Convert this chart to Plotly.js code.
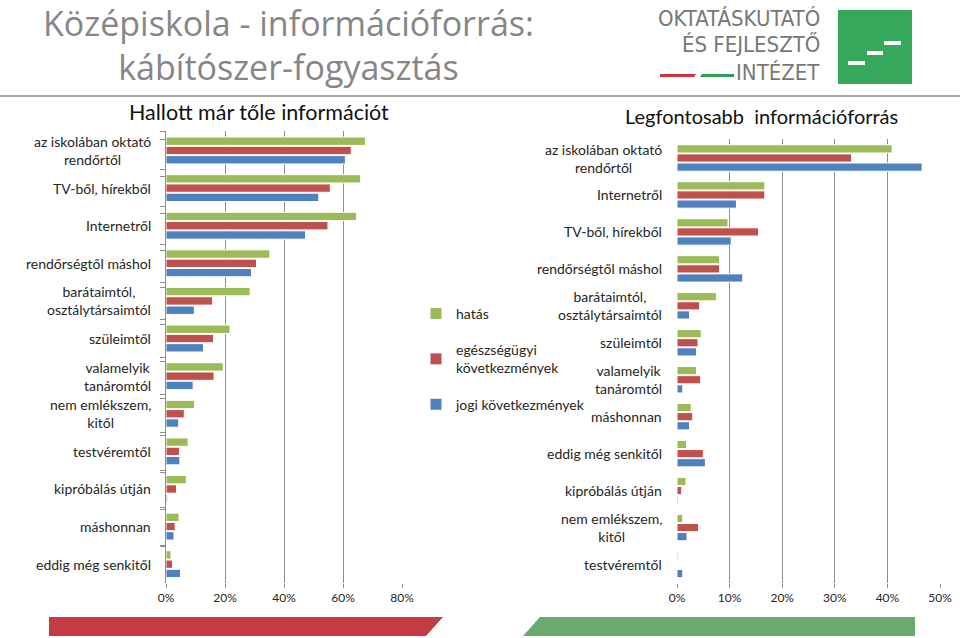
<!DOCTYPE html>
<html>
<head>
<meta charset="utf-8">
<script src="https://cdn.plot.ly/plotly-3.0.1.min.js"></script>
<style>
html,body{margin:0;padding:0;background:#fff;}
#chart{width:960px;height:638px;}
</style>
</head>
<body>
<div id="chart"></div>
<script>
// ---- data ----
const seriesNames = ['hatás', 'egészségügyi<br>következmények', 'jogi következmények'];

const leftCategories = ['az iskolában oktató rendőrtől', 'TV-ből, hírekből', 'Internetről', 'rendőrségtől máshol',
  'barátaimtól, osztálytársaimtól', 'szüleimtől', 'valamelyik tanáromtól', 'nem emlékszem, kitől',
  'testvéremtől', 'kipróbálás útján', 'máshonnan', 'eddig még senkitől'];
const leftLabels = ['az iskolában oktató<br>rendőrtől', 'TV-ből, hírekből', 'Internetről', 'rendőrségtől máshol',
  'barátaimtól,<br>osztálytársaimtól', 'szüleimtől', 'valamelyik<br>tanáromtól', 'nem emlékszem,<br>kitől',
  'testvéremtől', 'kipróbálás útján', 'máshonnan', 'eddig még senkitől'];
const leftHatas    = [67.6, 66.0, 64.6, 35.2, 28.5, 21.7, 19.4, 9.7, 7.5, 6.9, 4.4, 1.7];
const leftEgeszseg = [62.8, 55.7, 54.9, 30.7, 15.8, 16.1, 16.3, 6.2, 4.6, 3.6, 3.1, 2.2];
const leftJogi     = [60.8, 51.8, 47.3, 29.0, 9.6, 12.7, 9.2, 4.3, 4.7, 0.4, 2.7, 4.9];

const rightCategories = ['az iskolában oktató rendőrtől', 'Internetről', 'TV-ből, hírekből', 'rendőrségtől máshol',
  'barátaimtól, osztálytársaimtól', 'szüleimtől', 'valamelyik tanáromtól', 'máshonnan',
  'eddig még senkitől', 'kipróbálás útján', 'nem emlékszem, kitől', 'testvéremtől'];
const rightLabels = ['az iskolában oktató<br>rendőrtől', 'Internetről', 'TV-ből, hírekből', 'rendőrségtől máshol',
  'barátaimtól,<br>osztálytársaimtól', 'szüleimtől', 'valamelyik<br>tanáromtól', 'máshonnan',
  'eddig még senkitől', 'kipróbálás útján', 'nem emlékszem,<br>kitől', 'testvéremtől'];
const rightHatas    = [40.9, 16.7, 9.7, 8.1, 7.5, 4.6, 3.7, 2.7, 1.8, 1.7, 1.1, 0.2];
const rightEgeszseg = [33.2, 16.7, 15.5, 8.1, 4.3, 4.0, 4.5, 3.0, 5.0, 0.9, 4.1, 0.1];
const rightJogi     = [46.6, 11.3, 10.3, 12.5, 2.4, 3.7, 1.1, 2.4, 5.4, 0.2, 1.9, 1.1];

const leftTicks = [0, 20, 40, 60, 80];
const rightTicks = [0, 10, 20, 30, 40, 50];

// ---- styling ----
const W = 960, H = 638;
const px = x => x / W;
const py = y => 1 - y / H;
const colors = ['#9bbb59', '#c0504d', '#4f81bd'];
const labelFont = {family: 'Lato, Calibri, sans-serif', size: 14, color: '#262626'};
const gridCol = '#8e8e8e';
const logoFont = {family: 'Liberation Sans Narrow, DejaVu Sans Condensed, sans-serif', size: 22, color: '#777777'};

function bar(x, y, i, xa, ya, show) {
  return {
    type: 'bar', orientation: 'h', x: x, y: y, name: seriesNames[i],
    xaxis: xa, yaxis: ya, showlegend: show, legendgroup: 'g' + i,
    marker: {color: colors[i], line: {color: '#ffffff', width: 1}},
    hoverinfo: 'x+y'
  };
}

const data = [
  bar(leftHatas, leftCategories, 0, 'x', 'y', true),
  bar(leftEgeszseg, leftCategories, 1, 'x', 'y', true),
  bar(leftJogi, leftCategories, 2, 'x', 'y', true),
  bar(rightHatas, rightCategories, 0, 'x2', 'y2', false),
  bar(rightEgeszseg, rightCategories, 1, 'x2', 'y2', false),
  bar(rightJogi, rightCategories, 2, 'x2', 'y2', false)
];

function xaxisDef(domain, ticks) {
  return {
    domain: domain, range: [0, ticks[ticks.length - 1]],
    tickmode: 'array', tickvals: ticks, ticktext: ticks.map(t => t + '%'),
    showgrid: true, gridcolor: gridCol, gridwidth: 1, zeroline: false,
    showline: false, ticks: 'outside', ticklen: 4, tickcolor: gridCol,
    tickfont: {family: 'Lato, Calibri, sans-serif', size: 12, color: '#262626'},
    fixedrange: true
  };
}
function yaxisDef(domain, cats) {
  return {
    domain: domain, type: 'category', categoryarray: cats, categoryorder: 'array',
    autorange: 'reversed', showticklabels: false, showgrid: false, zeroline: false,
    showline: true, linecolor: gridCol, linewidth: 1,
    ticks: 'outside', tickson: 'boundaries', ticklen: 5, tickcolor: gridCol,
    fixedrange: true
  };
}

const annotations = [];
leftCategories.forEach((c, i) => annotations.push({
  x: px(153), xref: 'paper', xanchor: 'right', y: c, yref: 'y', yanchor: 'middle',
  text: leftLabels[i], align: 'center', showarrow: false, font: labelFont
}));
rightCategories.forEach((c, i) => annotations.push({
  x: px(664), xref: 'paper', xanchor: 'right', y: c, yref: 'y2', yanchor: 'middle',
  text: rightLabels[i], align: 'center', showarrow: false, font: labelFont
}));
annotations.push(
  {x: px(288), y: py(45), xref: 'paper', yref: 'paper', xanchor: 'center', yanchor: 'middle',
   text: 'Középiskola - információforrás:<br>kábítószer-fogyasztás', showarrow: false, align: 'center',
   borderpad: 0, font: {family: 'Open Sans, sans-serif', size: 34, color: '#868686'}},
  {x: px(259), y: py(112), xref: 'paper', yref: 'paper', xanchor: 'center', yanchor: 'middle',
   text: 'Hallott már tőle információt', showarrow: false,
   font: {family: 'Lato, Calibri, sans-serif', size: 21.5, color: '#111'}},
  {x: px(761), y: py(116), xref: 'paper', yref: 'paper', xanchor: 'center', yanchor: 'middle',
   text: 'Legfontosabb  információforrás', showarrow: false,
   font: {family: 'Lato, Calibri, sans-serif', size: 20, color: '#111'}},
  {x: px(822), y: py(18), xref: 'paper', yref: 'paper', xanchor: 'right', yanchor: 'middle',
   text: 'OKTATÁSKUTATÓ', showarrow: false, font: logoFont},
  {x: px(822), y: py(45), xref: 'paper', yref: 'paper', xanchor: 'right', yanchor: 'middle',
   text: 'ÉS FEJLESZTŐ', showarrow: false, font: logoFont},
  {x: px(822), y: py(73), xref: 'paper', yref: 'paper', xanchor: 'right', yanchor: 'middle',
   text: 'INTÉZET', showarrow: false, font: logoFont}
);

function path(pts) {
  return 'M' + pts.map(p => px(p[0]) + ',' + py(p[1])).join('L') + 'Z';
}
function rect(x0, y0, x1, y1, color) {
  return {type: 'rect', xref: 'paper', yref: 'paper', x0: px(x0), x1: px(x1), y0: py(y1), y1: py(y0),
          fillcolor: color, line: {width: 0}, layer: 'above'};
}
const shapes = [
  {type: 'line', xref: 'paper', yref: 'paper', x0: 0, x1: 1, y0: py(96), y1: py(96),
   line: {color: '#a6a6a6', width: 2}},
  rect(838, 10, 912, 84, '#35a85b'),
  rect(848, 61, 865, 65, '#ffffff'),
  rect(867, 51, 883, 55, '#ffffff'),
  rect(884, 41, 901, 45, '#ffffff'),
  {type: 'path', xref: 'paper', yref: 'paper', path: path([[660, 74], [696, 74], [694, 77], [660, 77]]),
   fillcolor: '#d2313b', line: {width: 0}},
  {type: 'path', xref: 'paper', yref: 'paper', path: path([[702, 74], [734, 74], [734, 77], [700, 77]]),
   fillcolor: '#2e9e57', line: {width: 0}},
  {type: 'path', xref: 'paper', yref: 'paper', path: path([[49, 617], [443, 617], [426, 636], [49, 636]]),
   fillcolor: '#c63a44', line: {width: 0}},
  {type: 'path', xref: 'paper', yref: 'paper', path: path([[540, 617], [915, 617], [915, 636], [523, 636]]),
   fillcolor: '#69ab6e', line: {width: 0}}
];

const layout = {
  width: W, height: H, margin: {l: 0, r: 0, t: 0, b: 0},
  paper_bgcolor: '#ffffff', plot_bgcolor: '#ffffff',
  barmode: 'group', bargap: 0.26, bargroupgap: 0.1,
  font: {family: 'Lato, Calibri, sans-serif', color: '#262626'},
  xaxis: xaxisDef([px(166), px(402)], leftTicks),
  yaxis: yaxisDef([py(583), py(131)], leftCategories),
  xaxis2: xaxisDef([px(677), px(940)], rightTicks),
  yaxis2: yaxisDef([py(583), py(138.5)], rightCategories),
  showlegend: true,
  legend: {x: px(416), y: py(298), xanchor: 'left', yanchor: 'top', orientation: 'v',
           traceorder: 'grouped', tracegroupgap: 15, bgcolor: 'rgba(0,0,0,0)',
           font: {family: 'Lato, Calibri, sans-serif', size: 14, color: '#262626'},
           itemwidth: 30},
  annotations: annotations,
  shapes: shapes
};

Plotly.newPlot('chart', data, layout, {staticPlot: true, displayModeBar: false});
</script>
</body>
</html>
